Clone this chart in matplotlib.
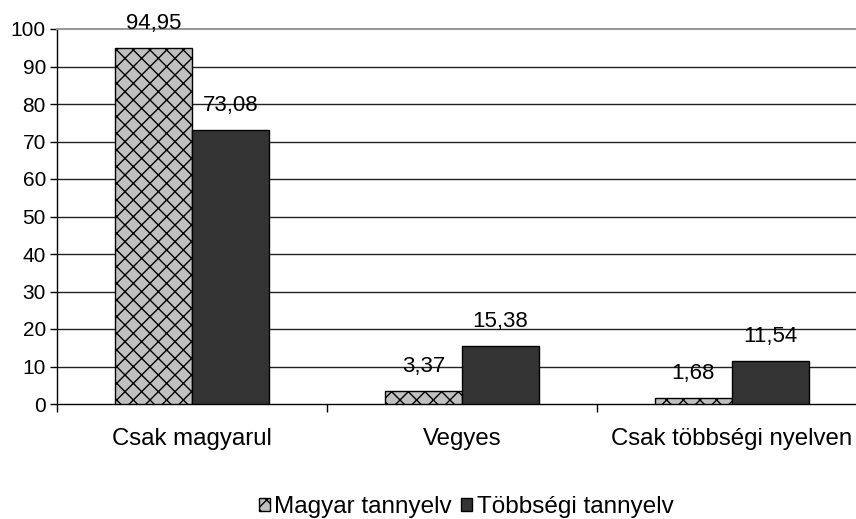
import matplotlib
matplotlib.use("Agg")
import matplotlib.pyplot as plt
import numpy as np

plt.rcParams['font.family'] = ['Liberation Sans', 'DejaVu Sans']
plt.rcParams['hatch.color'] = '#555555'
plt.rcParams['hatch.linewidth'] = 1.0

categories = ["Csak magyarul", "Vegyes", "Csak többségi nyelven"]
magyar = [94.95, 3.37, 1.68]
tobbsegi = [73.08, 15.38, 11.54]
series_names = ["Magyar tannyelv", "Többségi tannyelv"]

fig = plt.figure(figsize=(8.56, 5.19), dpi=100)
ax = fig.add_axes([57/856, 1-404/519, 810/856, 375/519])

x = np.arange(len(categories))
w = 1/3.5

b1 = ax.bar(x - w/2, magyar, w, color='#c0c0c0', edgecolor='black', hatch='xx', linewidth=1, label=series_names[0], zorder=3)
b2 = ax.bar(x + w/2, tobbsegi, w, color='#333333', edgecolor='black', linewidth=1, label=series_names[1], zorder=3)

for bars, vals in [(b1, magyar), (b2, tobbsegi)]:
    for r, v in zip(bars, vals):
        ax.annotate(("%.2f" % v).replace(".", ","), (r.get_x() + r.get_width()/2, v),
                    xytext=(0, 13.7), textcoords='offset points', ha='center', va='baseline', fontsize=16)

ax.set_xlim(-0.5, 2.5)
ax.set_ylim(0, 100)
ax.set_yticks(range(0, 101, 10))
ax.tick_params(axis='y', labelsize=15, length=5, width=1, direction='out', pad=3)
ax.set_xticks(x)
ax.set_xticklabels(categories, fontsize=17.3)
ax.tick_params(axis='x', length=0, pad=17)
ax.set_xticks([-0.5, 0.5, 1.5, 2.5], minor=True)
ax.tick_params(axis='x', which='minor', length=6, width=1, direction='out')

for yv in range(10, 100, 10):
    ax.axhline(yv, color='#222222', linewidth=1, zorder=1)
ax.spines['top'].set_color('#999999')
ax.spines['top'].set_linewidth(1.5)
ax.spines['right'].set_visible(False)
ax.spines['left'].set_linewidth(1)
ax.spines['bottom'].set_linewidth(1)

fig.legend(handles=[b1, b2], labels=series_names, loc='center', bbox_to_anchor=(466/856, 1-507/519),
           ncol=2, frameon=False, fontsize=17.5, handlelength=0.45, handleheight=0.45,
           handletextpad=0.18, columnspacing=0.4, borderpad=0, borderaxespad=0)

fig.savefig("out.png", dpi=100)
